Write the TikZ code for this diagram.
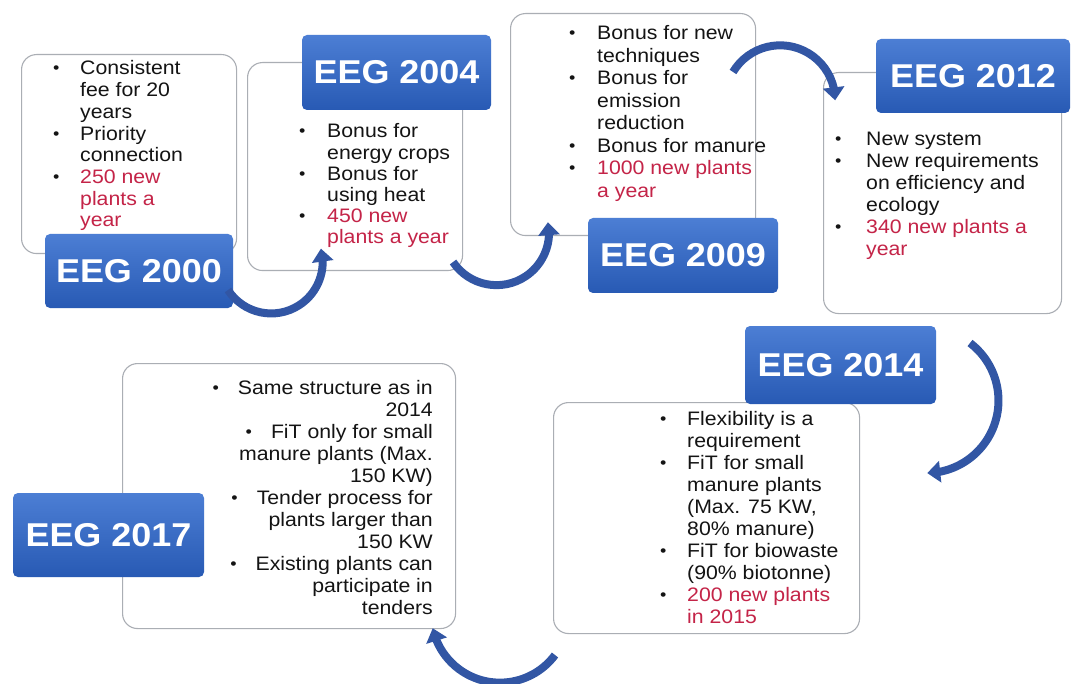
\documentclass[tikz,border=0pt]{standalone}
\usepackage{fontspec}
\setmainfont{Liberation Sans}[FakeStretch=1.09]
\usepackage{graphicx}
\usetikzlibrary{arrows.meta,bending}
\definecolor{cardline}{RGB}{170,174,180}
\definecolor{lbltop}{RGB}{76,126,212}
\definecolor{lblbot}{RGB}{40,90,180}
\definecolor{redtxt}{RGB}{196,36,72}
\definecolor{bodytxt}{RGB}{20,20,20}
\definecolor{arrowc}{RGB}{50,86,164}
\newcommand\bul{\raisebox{1pt}{\scalebox{0.85}{•}}}
\newcommand\rd[1]{\textcolor{redtxt}{#1}}
\begin{document}
\begin{tikzpicture}[x=1pt,y=-1pt,
  card/.style={draw=cardline, line width=1.1pt, fill=white, rounded corners=15pt, inner sep=0pt, anchor=north west},
  lbl/.style={rounded corners=5pt, top color=lbltop, bottom color=lblbot, text=white, inner sep=0pt,
    font=\bfseries\fontsize{33}{36}\selectfont},
  txt/.style={anchor=base west, inner sep=0pt, text=bodytxt, font=\fontsize{19.5}{22}\selectfont},
  txtr/.style={anchor=base east, inner sep=0pt, text=bodytxt, font=\fontsize{19.5}{22}\selectfont},
  flow/.style={draw=arrowc, line width=8pt, -{Triangle[width=21pt,length=13pt]}}
]
\fill[white] (0,0) rectangle (1075,684);
\useasboundingbox (0,0) rectangle (1075,684);

% cards
\node[card, minimum width=215, minimum height=199] (c2000) at (21,54) {};
\node[card, minimum width=215, minimum height=208] (c2004) at (247,62) {};
\node[card, minimum width=245, minimum height=222] (c2009) at (510,13) {};
\node[card, minimum width=238, minimum height=241] (c2012) at (823,72) {};
\node[card, minimum width=306, minimum height=231] (c2014) at (553,402) {};
\node[card, minimum width=333, minimum height=265] (c2017) at (122,363) {};

% card texts
\node[txt, font=\fontsize{19.5}{21.7}\selectfont] (t2000) at (53,75) {\begin{tabular}[t]{@{}p{27pt}@{}l@{}}
\bul & Consistent\\
 & fee for 20\\
 & years\\
\bul & Priority\\
 & connection\\
\bul & \rd{250 new}\\
 & \rd{plants a}\\
 & \rd{year}
\end{tabular}};

\node[txt, font=\fontsize{19.5}{21.2}\selectfont] (t2004) at (299,138) {\begin{tabular}[t]{@{}p{28pt}@{}l@{}}
\bul & Bonus for\\
 & energy crops\\
\bul & Bonus for\\
 & using heat\\
\bul & \rd{450 new}\\
 & \rd{plants a year}
\end{tabular}};

\node[txt, font=\fontsize{19.5}{22.5}\selectfont] (t2009) at (569,40) {\begin{tabular}[t]{@{}p{28pt}@{}l@{}}
\bul & Bonus for new\\
 & techniques\\
\bul & Bonus for\\
 & emission\\
 & reduction\\
\bul & Bonus for manure\\
\bul & \rd{1000 new plants}\\
 & \rd{a year}
\end{tabular}};

\node[txt] (t2012) at (835,146) {\begin{tabular}[t]{@{}p{31pt}@{}l@{}}
\bul & New system\\
\bul & New requirements\\
 & on efficiency and\\
 & ecology\\
\bul & \rd{340 new plants a}\\
 & \rd{year}
\end{tabular}};

\node[txt] (t2014) at (660,425) {\begin{tabular}[t]{@{}p{27pt}@{}l@{}}
\bul & Flexibility is a\\
 & requirement\\
\bul & FiT for small\\
 & manure plants\\
 & (Max. 75 KW,\\
 & 80\% manure)\\
\bul & FiT for biowaste\\
 & (90\% biotonne)\\
\bul & \rd{200 new plants}\\
 & \rd{in 2015}
\end{tabular}};

\node[txtr] (t2017) at (433,394) {\begin{tabular}[t]{@{}r@{}}
\bul\hspace{19pt}Same structure as in\\
2014\\
\bul\hspace{19pt}FiT only for small\\
manure plants (Max.\\
150 KW)\\
\bul\hspace{19pt}Tender process for\\
plants larger than\\
150 KW\\
\bul\hspace{19pt}Existing plants can\\
participate in\\
tenders
\end{tabular}};

% labels
\node[lbl, minimum width=188, minimum height=74] (l2000) at (139,271) {EEG 2000};
\node[lbl, minimum width=189, minimum height=75] (l2004) at (396.5,72.5) {EEG 2004};
\node[lbl, minimum width=190, minimum height=75] (l2009) at (683,255.5) {EEG 2009};
\node[lbl, minimum width=194, minimum height=74] (l2012) at (973,76) {EEG 2012};
\node[lbl, minimum width=191, minimum height=78] (l2014) at (840.5,365) {EEG 2014};
\node[lbl, minimum width=191, minimum height=84] (l2017) at (108.5,535) {EEG 2017};

% curved arrows
\coordinate (aA) at (228,290);
\coordinate (aB) at (453,262);
\coordinate (aC) at (733,72);
\coordinate (aD) at (970,343);
\coordinate (aE) at (555,655);
\draw[flow] (aA) arc[start angle=147, end angle=-15, radius=51.5];
\draw[flow] (aB) arc[start angle=146, end angle=-11.5, radius=52.5];
\draw[flow] (aC) arc[start angle=211, end angle=360, radius=55];
\draw[flow] (aD) arc[start angle=-52.6, end angle=89, radius=72.5];
\draw[flow] (aE) arc[start angle=36.7, end angle=168, radius=68.7];
\end{tikzpicture}
\end{document}
